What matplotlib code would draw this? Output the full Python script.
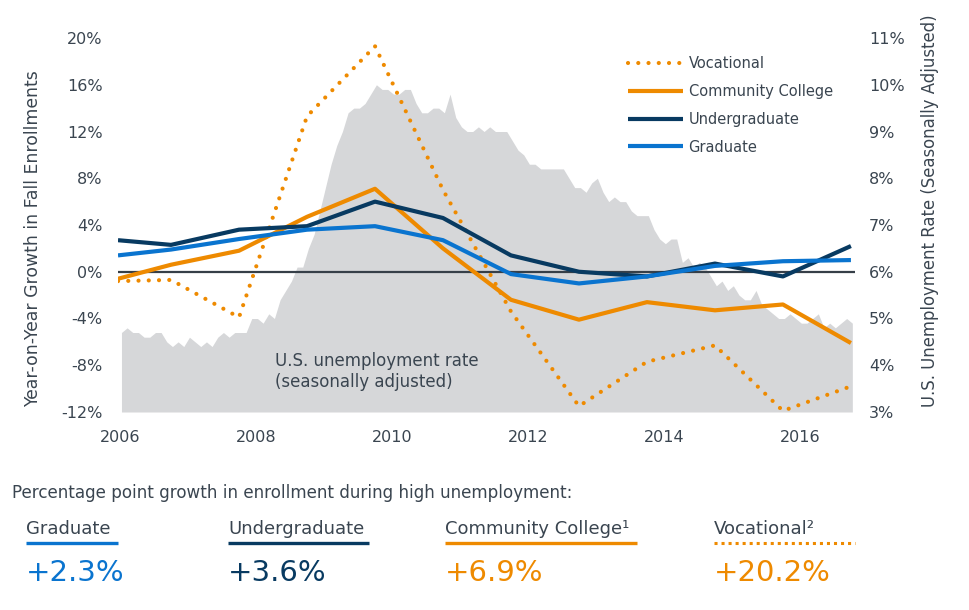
import matplotlib
matplotlib.use("Agg")
import matplotlib.pyplot as plt
from matplotlib.lines import Line2D
import numpy as np

# ---------------- data ----------------
# Fall enrollment year-on-year growth (%), points at fall of each year
enroll_x = [2005.97, 2006.75, 2007.75, 2008.75, 2009.75, 2010.75, 2011.75,
            2012.75, 2013.75, 2014.75, 2015.75, 2016.75]
vocational = [-0.8, -0.7, -3.9, 13.3, 19.3, 7.0, -3.4, -11.5, -7.7, -6.3, -11.9, -9.8]
community = [-0.6, 0.6, 1.8, 4.7, 7.1, 2.0, -2.4, -4.1, -2.6, -3.3, -2.8, -6.1]
undergrad = [2.7, 2.3, 3.6, 3.9, 6.0, 4.6, 1.4, 0.0, -0.4, 0.7, -0.4, 2.2]
graduate = [1.4, 1.9, 2.8, 3.6, 3.9, 2.7, -0.2, -1.0, -0.4, 0.5, 0.9, 1.0]

# US unemployment rate, monthly, Jan 2006 - Oct 2016 (%)
unemp = [
    4.7, 4.8, 4.7, 4.7, 4.6, 4.6, 4.7, 4.7, 4.5, 4.4, 4.5, 4.4,
    4.6, 4.5, 4.4, 4.5, 4.4, 4.6, 4.7, 4.6, 4.7, 4.7, 4.7, 5.0,
    5.0, 4.9, 5.1, 5.0, 5.4, 5.6, 5.8, 6.1, 6.1, 6.5, 6.8, 7.3,
    7.8, 8.3, 8.7, 9.0, 9.4, 9.5, 9.5, 9.6, 9.8, 10.0, 9.9, 9.9,
    9.8, 9.8, 9.9, 9.9, 9.6, 9.4, 9.4, 9.5, 9.5, 9.4, 9.8, 9.3,
    9.1, 9.0, 9.0, 9.1, 9.0, 9.1, 9.0, 9.0, 9.0, 8.8, 8.6, 8.5,
    8.3, 8.3, 8.2, 8.2, 8.2, 8.2, 8.2, 8.0, 7.8, 7.8, 7.7, 7.9,
    8.0, 7.7, 7.5, 7.6, 7.5, 7.5, 7.3, 7.2, 7.2, 7.2, 6.9, 6.7,
    6.6, 6.7, 6.7, 6.2, 6.3, 6.1, 6.2, 6.1, 5.9, 5.7, 5.8, 5.6,
    5.7, 5.5, 5.4, 5.4, 5.6, 5.3, 5.2, 5.1, 5.0, 5.0, 5.1, 5.0,
    4.9, 4.9, 5.0, 5.1, 4.8, 4.9, 4.8, 4.9, 5.0, 4.9,
]
unemp_x = [2006 + (i + 0.25) / 12 for i in range(len(unemp))]

left_ticks = [-12, -8, -4, 0, 4, 8, 12, 16, 20]
right_ticks = [3, 4, 5, 6, 7, 8, 9, 10, 11]
x_ticks = [2006, 2008, 2010, 2012, 2014, 2016]

summary_names = ["Graduate", "Undergraduate", "Community College\u00b9", "Vocational\u00b2"]
summary_values = ["+2.3%", "+3.6%", "+6.9%", "+20.2%"]

# ---------------- style ----------------
ORANGE = "#EE8A00"
NAVY = "#083A61"
BLUE = "#0A74CF"
GRAY = "#D6D7D9"
TEXT = "#3A4550"
ZERO = "#363F48"

plt.rcParams["font.family"] = ["DejaVu Sans"]

W, H = 969, 610
fig = plt.figure(figsize=(W / 100, H / 100), dpi=100)


def fx(px):
    return px / W


def fy(py):
    return 1 - py / H


ax = fig.add_axes([fx(118), fy(412), fx(855) - fx(118), fy(38) - fy(412)])
ax2 = ax.twinx()
ax.set_zorder(ax2.get_zorder() + 1)
ax.patch.set_visible(False)

# unemployment area
ax2.fill_between(unemp_x, unemp, 3, color=GRAY, linewidth=0)
ax2.set_ylim(3, 11)
ax2.set_yticks(right_ticks)
ax2.set_yticklabels([f"{t}%" for t in right_ticks])

# enrollment lines
ax.axhline(0, color=ZERO, linewidth=1.6, zorder=1)
ax.plot(enroll_x, vocational, color=ORANGE, linewidth=3.0,
        linestyle=(0, (0.01, 2.45)), dash_capstyle="round",
        solid_capstyle="round", label="Vocational", zorder=3)
ax.plot(enroll_x, community, color=ORANGE, linewidth=3.0,
        solid_capstyle="butt", label="Community College", zorder=3)
ax.plot(enroll_x, undergrad, color=NAVY, linewidth=3.0,
        solid_capstyle="butt", label="Undergraduate", zorder=3)
ax.plot(enroll_x, graduate, color=BLUE, linewidth=3.0,
        solid_capstyle="butt", label="Graduate", zorder=3)

ax.set_xlim(2005.97, 2016.81)
ax.set_ylim(-12, 20)
ax.set_yticks(left_ticks)
ax.set_yticklabels([f"{t}%" for t in left_ticks])
ax.set_xticks(x_ticks)
ax.set_xticklabels([str(t) for t in x_ticks])

for a in (ax, ax2):
    for s in a.spines.values():
        s.set_visible(False)
ax.tick_params(axis="y", length=0, pad=11, labelsize=11.5, labelcolor=TEXT)
ax.tick_params(axis="x", length=0, pad=13, labelsize=11.5, labelcolor=TEXT)
ax2.tick_params(axis="y", length=0, pad=10, labelsize=11.5, labelcolor=TEXT)

leg = ax.legend(loc="upper left", bbox_to_anchor=(fx(628), fy(56)),
                bbox_transform=fig.transFigure, frameon=False,
                fontsize=10.5, handlelength=3.8, handletextpad=0.35,
                labelspacing=0.88, borderpad=0, borderaxespad=0)
for t in leg.get_texts():
    t.set_color(TEXT)

ax.text(fx(275), fy(352), "U.S. unemployment rate\n(seasonally adjusted)",
        transform=fig.transFigure, fontsize=12, color=TEXT, va="top",
        ha="left", linespacing=1.2, zorder=4)

fig.text(fx(33), fy(407), "Year-on-Year Growth in Fall Enrollments",
         rotation=90, ha="center", va="bottom", fontsize=12.4, color=TEXT)
fig.text(fx(930), fy(407), "U.S. Unemployment Rate (Seasonally Adjusted)",
         rotation=90, ha="center", va="bottom", fontsize=11.9, color=TEXT)

# ---------------- bottom summary ----------------
fig.text(fx(11.5), fy(497.5),
         "Percentage point growth in enrollment during high unemployment:",
         fontsize=12.1, color=TEXT, ha="left", va="baseline")

col_x = [26, 228, 445, 714]
line_end = [118, 369, 637, 855]
colors = [BLUE, NAVY, ORANGE, ORANGE]
for i in range(4):
    fig.text(fx(col_x[i]), fy(534.5), summary_names[i], fontsize=13,
             color=TEXT, ha="left", va="baseline")
    fig.text(fx(col_x[i]), fy(581), summary_values[i], fontsize=21,
             color=colors[i], ha="left", va="baseline")
    if i < 3:
        ln = Line2D([fx(col_x[i]), fx(line_end[i])], [fy(543.3), fy(543.3)],
                    transform=fig.transFigure, color=colors[i],
                    linewidth=2.4, solid_capstyle="butt")
    else:
        ln = Line2D([fx(col_x[i]), fx(line_end[i])], [fy(543.3), fy(543.3)],
                    transform=fig.transFigure, color=colors[i],
                    linewidth=2.2, linestyle=(0, (1, 1.3)),
                    dash_capstyle="butt")
    fig.add_artist(ln)

fig.savefig("out.png", dpi=100)
